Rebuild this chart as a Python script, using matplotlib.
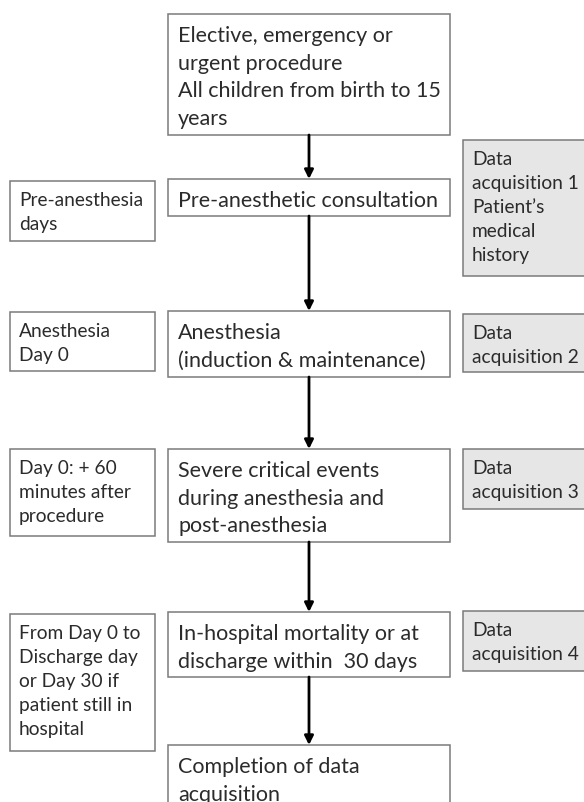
import matplotlib
matplotlib.use("Agg")
import matplotlib.pyplot as plt
from matplotlib.patches import Rectangle

# ---- content ----
center_texts = [
    "Elective, emergency or\nurgent procedure\nAll children from birth to 15\nyears",
    "Pre-anesthetic consultation",
    "Anesthesia\n(induction & maintenance)",
    "Severe critical events\nduring anesthesia and\npost-anesthesia",
    "In-hospital mortality or at\ndischarge within  30 days",
    "Completion of data\nacquisition",
]
left_texts = [
    "Pre-anesthesia\ndays",
    "Anesthesia\nDay 0",
    "Day 0: + 60\nminutes after\nprocedure",
    "From Day 0 to\nDischarge day\nor Day 30 if\npatient still in\nhospital",
]
right_texts = [
    "Data\nacquisition 1\nPatient\u2019s\nmedical\nhistory",
    "Data\nacquisition 2",
    "Data\nacquisition 3",
    "Data\nacquisition 4",
]

# ---- layout (pixels, y downward) ----
center_x = (168, 450)
center_y = [(15, 136), (180, 217), (312, 378), (450, 543), (613, 678), (746, 810)]
left_x = (10, 155)
left_y = [(182, 242), (313, 372), (450, 537), (615, 752)]
right_x = (463, 590)
right_y = [(141, 277), (315, 373), (450, 510), (612, 672)]

W, H = 584, 803
fig = plt.figure(figsize=(W / 100, H / 100), dpi=100)
ax = fig.add_axes([0, 0, 1, 1])
ax.set_xlim(0, W)
ax.set_ylim(H, 0)
ax.axis("off")

FONT = "Lato"
TXT = "#2b2b2b"
EDGE = "#7a7a7a"


def box(x, y, text, fill, fs, ls, pad_x=10, pad_y=8):
    ax.add_patch(Rectangle((x[0], y[0]), x[1] - x[0], y[1] - y[0],
                           facecolor=fill, edgecolor=EDGE, lw=1.1, zorder=2))
    ax.text(x[0] + pad_x, y[0] + pad_y, text, ha="left", va="top",
            fontsize=fs, family=FONT, color=TXT, linespacing=ls, zorder=3)


for t, y in zip(center_texts, center_y):
    box(center_x, y, t, "white", 15.5, 1.47, pad_y=11)
for t, y in zip(left_texts, left_y):
    box(left_x, y, t, "white", 13.8, 1.5, pad_x=9, pad_y=10)
for t, y in zip(right_texts, right_y):
    box(right_x, y, t, "#e6e6e6", 13.8, 1.5, pad_x=9, pad_y=10)

xc = (center_x[0] + center_x[1]) / 2
for (a, b) in zip(center_y[:-1], center_y[1:]):
    ax.annotate("", xy=(xc, b[0]), xytext=(xc, a[1]),
                arrowprops=dict(arrowstyle="-|>", color="black", lw=2.0,
                                mutation_scale=13, shrinkA=0, shrinkB=0),
                zorder=4)

fig.savefig("out.png", dpi=100)
